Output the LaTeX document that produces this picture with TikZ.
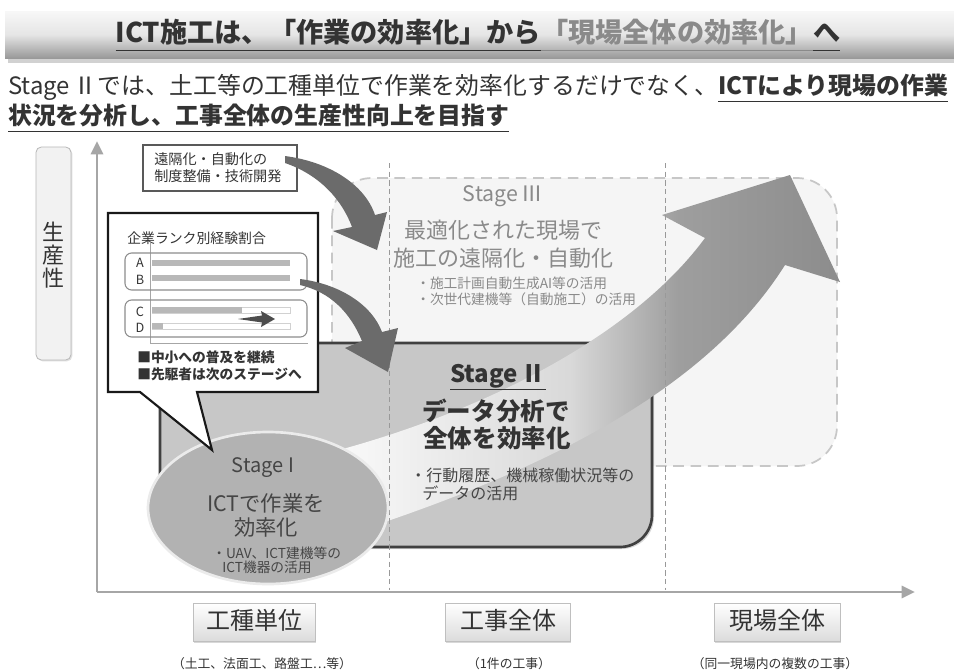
\documentclass[tikz,border=0pt]{standalone}
\usepackage{fontspec}
\usepackage{graphicx}
\setmainfont{Noto Sans CJK JP}
\usetikzlibrary{arrows.meta,shadows}
\definecolor{tdark}{HTML}{333333}
\definecolor{tgray}{HTML}{8A8A8A}
\definecolor{tmid}{HTML}{454545}
\newcommand\ulx[1]{\underline{#1\vphantom{「」gy}}}
\newcommand\fs[1]{\fontsize{#1}{#1}\selectfont}
\pgfdeclarehorizontalshading{bigarrowshade}{100bp}{color(0bp)=(white); color(25bp)=(white); color(50bp)=(black!15); color(60bp)=(black!38); color(75bp)=(black!45); color(100bp)=(black!45)}
\tikzset{
 txt/.style={inner sep=0pt, text=tdark},
 axisline/.style={draw=black!35, line width=2.2pt, -{Triangle[length=10pt,width=9pt]}},
 sepline/.style={draw=black!40, line width=0.6pt, dash pattern=on 4pt off 2.5pt},
 darrow/.style={fill=black!58},
 labelbox/.style={draw=black!25, line width=0.5pt, top color=white, bottom color=black!14, drop shadow={opacity=0.3, shadow xshift=1pt, shadow yshift=-1.5pt}},
 rankbar/.style={fill=black!28},
 barframe/.style={draw=black!18, line width=0.5pt},
 rankbox/.style={draw=black!45, line width=0.8pt, rounded corners=5pt},
}
\begin{document}
\begin{tikzpicture}[x=0.75pt,y=-0.75pt]
\useasboundingbox (0,0) rectangle (954,671);
\fill[white] (0,0) rectangle (954,671);

% title bar
\fill[black!18] (8,16) rectangle (954,63);
\shade[top color=black!3, bottom color=black!40, middle color=black!10] (5,11) rectangle (954,58);
\node[txt, font=\bfseries\fs{20.4}] (title) at (478,35) {\ulx{ICT施工は、「作業の効率化」から}\textcolor{tgray}{\ulx{「現場全体の効率化」}}\ulx{へ}};

% subtitle
\node[txt, anchor=west, font=\fs{17.9}] (subA) at (8,88) {Stage\,Ⅱでは、土工等の工種単位で作業を効率化するだけでなく、\textbf{\ulx{ICTにより現場の作業}}};
\node[txt, anchor=west, font=\bfseries\fs{17.9}] (subB) at (8,118) {\ulx{状況を分析し、工事全体の生産性向上を目指す}};

% productivity label
\filldraw[fill=black!5, draw=black!28, line width=0.6pt, rounded corners=4pt, drop shadow={opacity=0.25,shadow xshift=1pt,shadow yshift=-1pt}] (36,147) rectangle (71,360);
\node[txt, font=\fontsize{16.5}{17}\selectfont, align=center] (seisan) at (53,255) {生\\産\\性};

% axes
\coordinate (origin) at (97,592);
\coordinate (ytip) at (97,141);
\coordinate (xtip) at (915,592);
\draw[axisline] (origin) -- (ytip);
\draw[axisline] (origin) -- (xtip);

% Stage III box
\filldraw[fill=black!4, draw=black!22, line width=1.3pt, dash pattern=on 8pt off 5pt, rounded corners=30pt] (332,178) rectangle (837,466);

% Stage II box
\filldraw[fill=black!22, draw=black!75, line width=2pt, rounded corners=24pt, drop shadow={opacity=0.3,shadow xshift=1.5pt,shadow yshift=-1.5pt}] (160,343) rectangle (652,547);

% big arrow
\shade[shading=bigarrowshade] (300,460) .. controls (470,420) and (630,340) .. (705,238) -- (662,215) -- (790,175) -- (840,282) -- (785,265) .. controls (700,400) and (520,480) .. (330,540) -- cycle;

% separators
\coordinate (sepAtop) at (389,163);
\coordinate (sepAbot) at (389,590);
\coordinate (sepBtop) at (665,163);
\coordinate (sepBbot) at (665,590);
\draw[sepline] (sepAtop) -- (sepAbot);
\draw[sepline] (sepBtop) -- (sepBbot);

% Stage III texts
\node[txt, text=tgray, font=\fs{16}] (s3a) at (503,196) {Stage\,Ⅲ};
\node[txt, text=tgray, font=\fs{16.5}] (s3b) at (503,230) {最適化された現場で};
\node[txt, text=tgray, font=\fs{16.5}] (s3c) at (503,258) {施工の遠隔化・自動化};
\node[txt, text=tgray, anchor=west, font=\fs{10.3}] (s3d) at (416,283) {・施工計画自動生成AI等の活用};
\node[txt, text=tgray, anchor=west, font=\fs{10.3}] (s3e) at (416,299) {・次世代建機等（自動施工）の活用};

% Stage II texts
\node[txt, font=\bfseries\fs{18}] (s2a) at (498,376) {\ulx{Stage\,Ⅱ}};
\node[txt, font=\bfseries\fs{18.4}] (s2b) at (496,411) {データ分析で};
\node[txt, font=\bfseries\fs{18.4}] (s2c) at (497,438) {全体を効率化};
\node[txt, text=tmid, anchor=west, font=\fs{12}] (s2d) at (410,475) {・行動履歴、機械稼働状況等の};
\node[txt, text=tmid, anchor=west, font=\fs{12}] (s2e) at (422,493) {データの活用};

% Stage I ellipse
\filldraw[fill=black!30, draw=black!8, line width=2pt] (268,508) ellipse [x radius=90pt, y radius=57pt];
\node[txt, text=tmid, font=\fs{15}] (s1a) at (263,468) {Stage I};
\node[txt, text=tmid, font=\fs{16}] (s1b) at (266,503) {ICTで作業を};
\node[txt, text=tmid, font=\fs{16}] (s1c) at (266,527) {効率化};
\node[txt, text=tmid, anchor=west, font=\fs{10.3}] (s1d) at (212,553) {・UAV、ICT建機等の};
\node[txt, text=tmid, anchor=west, font=\fs{10.3}] (s1e) at (222,567) {ICT機器の活用};

% callout
\filldraw[fill=white, draw=black!90, line width=1.6pt, line join=miter] (108,213) -- (318,213) -- (318,392) -- (197,392) -- (212,450) -- (140,392) -- (108,392) -- cycle;
\node[txt, anchor=west, font=\fs{10.4}] (rank) at (127,238) {企業ランク別経験割合};
\draw[black!35, line width=0.6pt] (150,243) -- (150,343) -- (308,343);
\draw[rankbox] (125,253) rectangle (307,290);
\draw[rankbox] (125,300) rectangle (307,337);
\fill[rankbar] (152,260) rectangle (290,266);
\fill[rankbar] (152,275) rectangle (290,281);
\draw[barframe] (152,307) rectangle (290,313);
\fill[rankbar] (152,307) rectangle (242,313);
\draw[barframe] (152,323) rectangle (290,329);
\fill[rankbar] (152,323) rectangle (163,329);
\node[txt, font=\fs{9.5}] (lA) at (140,263) {A};
\node[txt, font=\fs{9.5}] (lB) at (140,280) {B};
\node[txt, font=\fs{9.5}] (lC) at (140,312) {C};
\node[txt, font=\fs{9.5}] (lD) at (140,328) {D};
\fill[black!70] (238,319) -- (262,315.5) -- (261,311) -- (275,319) -- (261,327) -- (262,322.5) -- cycle;
\node[txt, anchor=west, font=\bfseries\fs{10.3}] (note1) at (137,357) {■中小への普及を継続};
\node[txt, anchor=west, font=\bfseries\fs{10.3}] (note2) at (137,374) {■先駆者は次のステージへ};

% top-left box
\filldraw[fill=white, draw=black!65, line width=1.5pt] (143,145) rectangle (297,191);
\node[txt, anchor=west, font=\fs{10.6}] (rem1) at (154,159) {遠隔化・自動化の};
\node[txt, anchor=west, font=\fs{10.6}] (rem2) at (154,176) {制度整備・技術開発};

% dark curved arrows
\fill[darrow] (285,156) .. controls (330,162) and (365,185) .. (375,215) -- (387,212) -- (377,250) -- (333,231) -- (352,227) .. controls (342,200) and (320,175) .. (285,163) -- cycle;
\fill[darrow] (300,279) .. controls (340,284) and (372,305) .. (382,332) -- (398,328) -- (388,372) -- (345,348) -- (362,341) .. controls (350,312) and (330,292) .. (300,285) -- cycle;

% bottom labels
\path[labelbox] (193,603) rectangle (315,641);
\node[txt, font=\fs{18}] (labA) at (254,620) {工種単位};
\node[txt, font=\fs{9.6}] (labAs) at (262,664) {（土工、法面工、路盤工…等）};
\path[labelbox] (445,603) rectangle (570,641);
\node[txt, font=\fs{18}] (labB) at (508,620) {工事全体};
\node[txt, font=\fs{9.6}] (labBs) at (509,664) {（1件の工事）};
\path[labelbox] (714,603) rectangle (840,641);
\node[txt, font=\fs{18}] (labC) at (777,620) {現場全体};
\node[txt, font=\fs{9.6}] (labCs) at (775,664) {（同一現場内の複数の工事）};
\end{tikzpicture}
\end{document}
